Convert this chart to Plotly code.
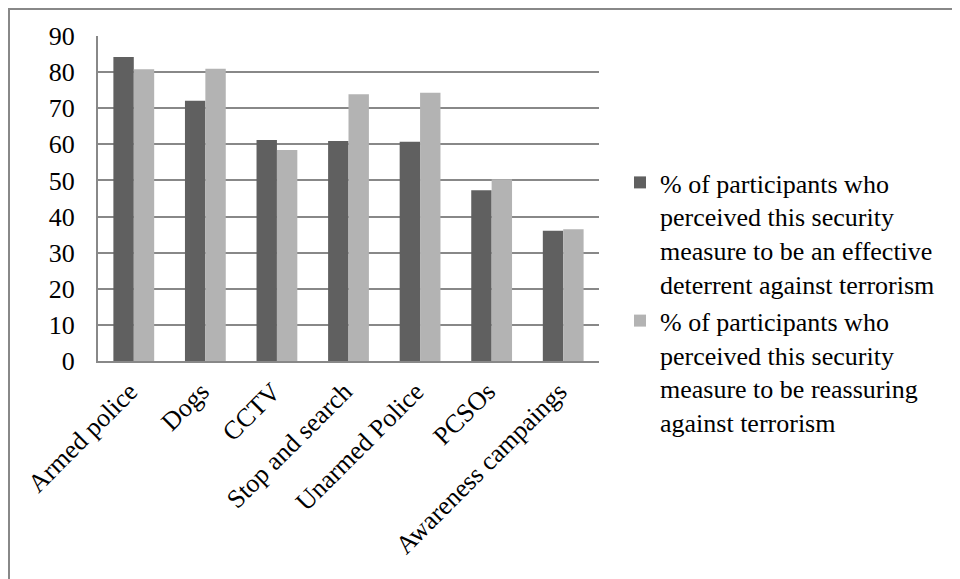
import plotly.graph_objects as go

categories = ["Armed police", "Dogs", "CCTV", "Stop and search", "Unarmed Police", "PCSOs", "Awareness campaings"]
deterrent = [84.2, 72.1, 61.2, 60.9, 60.7, 47.3, 36.1]
reassuring = [80.8, 80.9, 58.4, 73.9, 74.3, 50.3, 36.5]
series_names = [
    "% of participants who<br>perceived this security<br>measure to be an effective<br>deterrent against terrorism",
    "% of participants who<br>perceived this security<br>measure to be reassuring<br>against terrorism",
]
y_ticks = [0, 10, 20, 30, 40, 50, 60, 70, 80, 90]

FONT = "Liberation Serif"
GRID = "#888888"

fig = go.Figure()
fig.add_trace(go.Bar(x=categories, y=deterrent, name=series_names[0],
                     marker=dict(color="#606060", line=dict(width=0))))
fig.add_trace(go.Bar(x=categories, y=reassuring, name=series_names[1],
                     marker=dict(color="#b3b3b3", line=dict(width=0))))

# page has an 8px body margin; figure coordinates = page coordinates - 8
OFF = 8
W, H = 952, 571
ml, mr, mt, mb = 98 - OFF, 361, 36 - OFF, 218
pw, ph = W - ml - mr, H - mt - mb

def px2x(px):
    return (px - OFF - ml) / pw

def py2y(py):
    return (H - mb - (py - OFF)) / ph

fig.update_layout(
    width=W, height=H,
    margin=dict(l=ml, r=mr, t=mt, b=mb, autoexpand=False),
    paper_bgcolor="white", plot_bgcolor="white",
    font=dict(family=FONT, size=26, color="black"),
    barmode="group", bargap=0.43, bargroupgap=0,
    showlegend=True,
    legend=dict(x=px2x(620), xanchor="left", y=py2y(159), yanchor="top",
                valign="top", font=dict(size=26, family=FONT, color="black"),
                tracegroupgap=0, bgcolor="rgba(0,0,0,0)"),
    xaxis=dict(tickangle=-45, showline=True, linecolor=GRID, linewidth=2,
               showgrid=False, ticks="", ticklabelshift=-4, ticklabelstandoff=3,
               tickfont=dict(size=26, family=FONT, color="black")),
    yaxis=dict(range=[0, 90], tickvals=y_ticks, showgrid=True, gridcolor=GRID,
               gridwidth=2, showline=True, linecolor=GRID, linewidth=2,
               zeroline=False, ticks="", ticklabelstandoff=16,
               tickfont=dict(size=26, family=FONT, color="black")),
    shapes=[dict(type="rect", xref="paper", yref="paper",
                 x0=px2x(9), x1=px2x(990), y0=py2y(9), y1=py2y(620),
                 line=dict(color=GRID, width=2), fillcolor="rgba(0,0,0,0)",
                 layer="below")],
)

fig.write_html("out.html")
